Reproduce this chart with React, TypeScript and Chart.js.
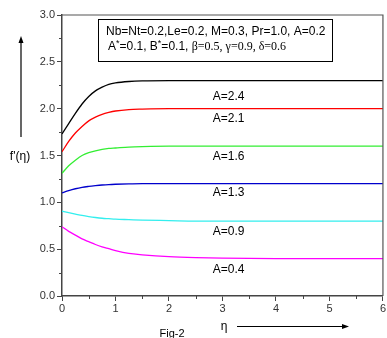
import React, { useEffect, useRef } from "react";
import { Chart, registerables } from "chart.js";

Chart.register(...registerables);

const eta = [0, 0.125, 0.25, 0.375, 0.5, 0.625, 0.75, 0.875, 1, 1.25, 1.5, 2, 2.5, 3, 4, 5, 6];
const fA24 = [1.73, 1.84, 1.95, 2.05, 2.13, 2.19, 2.23, 2.26, 2.275, 2.29, 2.297, 2.30, 2.30, 2.30, 2.30, 2.30, 2.30];
const fA21 = [1.54, 1.65, 1.74, 1.81, 1.87, 1.91, 1.94, 1.96, 1.975, 1.99, 1.995, 2.0, 2.0, 2.0, 2.0, 2.0, 2.0];
const fA16 = [1.31, 1.39, 1.45, 1.50, 1.53, 1.55, 1.565, 1.575, 1.58, 1.59, 1.595, 1.60, 1.60, 1.60, 1.60, 1.60, 1.60];
const fA13 = [1.10, 1.125, 1.145, 1.16, 1.17, 1.178, 1.185, 1.19, 1.193, 1.197, 1.20, 1.20, 1.20, 1.20, 1.20, 1.20, 1.20];
const fA09 = [0.905, 0.89, 0.875, 0.86, 0.848, 0.838, 0.83, 0.825, 0.82, 0.815, 0.81, 0.805, 0.80, 0.80, 0.80, 0.80, 0.80];
const fA04 = [0.74, 0.69, 0.65, 0.61, 0.58, 0.55, 0.525, 0.505, 0.485, 0.455, 0.44, 0.42, 0.41, 0.405, 0.40, 0.40, 0.40];

const seriesLabels = ["A=2.4", "A=2.1", "A=1.6", "A=1.3", "A=0.9", "A=0.4"];
const seriesColors = ["#000000", "#ff0000", "#33ee33", "#0000cc", "#33eeee", "#ff00ff"];
const seriesValues = [fA24, fA21, fA16, fA13, fA09, fA04];
const labelYValues = [2.13, 1.89, 1.49, 1.10, 0.69, 0.285];
const labelX = 2.82;

const xTicks = [0, 1, 2, 3, 4, 5, 6];
const yTicks = [0, 0.5, 1.0, 1.5, 2.0, 2.5, 3.0];

const SANS = "Arial, 'Liberation Sans', sans-serif";
const SERIF = "'Times New Roman', 'Liberation Serif', serif";

const decor = {
  id: "decor",
  afterDraw(chart: any) {
    const ctx = chart.ctx;
    const a = chart.chartArea;
    const xs = chart.scales.x;
    const ys = chart.scales.y;
    ctx.save();
    // top and right frame
    ctx.strokeStyle = "#555";
    ctx.lineWidth = 1.2;
    ctx.beginPath();
    ctx.moveTo(a.left, a.top);
    ctx.lineTo(a.right, a.top);
    ctx.lineTo(a.right, a.bottom);
    ctx.stroke();
    // minor ticks
    ctx.strokeStyle = "#444";
    ctx.lineWidth = 1;
    ctx.beginPath();
    for (let v = 0.5; v < 6; v += 1) {
      const px = Math.round(xs.getPixelForValue(v)) + 0.5;
      ctx.moveTo(px, a.bottom);
      ctx.lineTo(px, a.bottom + 3);
    }
    for (let v = 0.25; v < 3; v += 0.5) {
      const py = Math.round(ys.getPixelForValue(v)) + 0.5;
      ctx.moveTo(a.left, py);
      ctx.lineTo(a.left - 3, py);
    }
    ctx.stroke();
    // series labels
    ctx.fillStyle = "#000";
    ctx.font = "12px " + SANS;
    ctx.textBaseline = "middle";
    ctx.textAlign = "left";
    seriesLabels.forEach((t, i) => {
      ctx.fillText(t, xs.getPixelForValue(labelX), ys.getPixelForValue(labelYValues[i]));
    });
    // parameter box
    ctx.strokeStyle = "#000";
    ctx.lineWidth = 1;
    ctx.strokeRect(98.5, 19.5, 234, 42);
    ctx.font = "12px " + SANS;
    ctx.fillText("Nb=Nt=0.2,Le=0.2, M=0.3, Pr=1.0, A=0.2", 106, 32);
    let x = 108;
    const y2 = 46.5;
    const parts: [string, boolean][] = [["A", false], ["*", true], ["=0.1, B", false], ["*", true], ["=0.1, ", false]];
    parts.forEach(([s, sup]) => {
      if (sup) {
        ctx.font = "9px " + SANS;
        ctx.fillText(s, x, y2 - 3);
      } else {
        ctx.font = "12px " + SANS;
        ctx.fillText(s, x, y2);
      }
      x += ctx.measureText(s).width;
    });
    ctx.font = "12px " + SERIF;
    ctx.fillText("\u03b2=0.5, \u03b3=0.9, \u03b4=0.6", x, y2);
    // y axis title + arrow
    ctx.font = "12px " + SANS;
    ctx.textAlign = "center";
    ctx.fillText("f'(\u03b7)", 20, 157);
    ctx.lineWidth = 1.2;
    ctx.beginPath();
    ctx.moveTo(21, 137);
    ctx.lineTo(21, 40);
    ctx.stroke();
    ctx.fillStyle = "#000";
    ctx.beginPath();
    ctx.moveTo(21, 36);
    ctx.lineTo(18.5, 43);
    ctx.lineTo(23.5, 43);
    ctx.closePath();
    ctx.fill();
    // x axis title + arrow
    ctx.fillText("\u03b7", 224, 327);
    ctx.beginPath();
    ctx.moveTo(237, 326.5);
    ctx.lineTo(344, 326.5);
    ctx.stroke();
    ctx.beginPath();
    ctx.moveTo(349, 326.5);
    ctx.lineTo(342, 324);
    ctx.lineTo(342, 329);
    ctx.closePath();
    ctx.fill();
    // Fig caption
    ctx.font = "11px " + SANS;
    ctx.fillText("Fig-2", 172, 334);
    ctx.restore();
  },
};

export default function App() {
  const ref = useRef<HTMLCanvasElement | null>(null);
  useEffect(() => {
    if (!ref.current) return;
    const datasets = seriesValues.map((vals, i) => ({
      label: seriesLabels[i],
      data: eta.map((e, j) => ({ x: e, y: vals[j] })),
      borderColor: seriesColors[i],
      backgroundColor: seriesColors[i],
      borderWidth: 1.3,
      pointRadius: 0,
      cubicInterpolationMode: "monotone" as const,
      fill: false,
    }));
    const chart = new Chart(ref.current, {
      type: "line",
      data: { datasets },
      options: {
        animation: false,
        responsive: false,
        maintainAspectRatio: false,
        layout: { padding: { top: 15, right: 3, left: 0, bottom: 0 } },
        plugins: { legend: { display: false }, tooltip: { enabled: false } },
        scales: {
          x: {
            type: "linear",
            min: 0,
            max: 6,
            afterBuildTicks: (s: any) => {
              s.ticks = xTicks.map((v) => ({ value: v }));
            },
            afterFit: (s: any) => {
              s.height = 42;
            },
            ticks: {
              color: "#333",
              font: { size: 11, family: SANS },
              padding: 1,
              maxRotation: 0,
              callback: (v: any) => String(v),
            },
            grid: { drawOnChartArea: false, drawTicks: true, tickLength: 5, color: "#444", lineWidth: 1 },
            border: { display: true, color: "#444", width: 1.5 },
          },
          y: {
            type: "linear",
            min: 0,
            max: 3,
            afterBuildTicks: (s: any) => {
              s.ticks = yTicks.map((v) => ({ value: v }));
            },
            afterFit: (s: any) => {
              s.width = 62;
            },
            ticks: {
              color: "#333",
              font: { size: 11, family: SANS },
              padding: 2,
              callback: (v: any) => Number(v).toFixed(1),
            },
            grid: { drawOnChartArea: false, drawTicks: true, tickLength: 5, color: "#444", lineWidth: 1 },
            border: { display: true, color: "#444", width: 1.5 },
          },
        },
      },
      plugins: [decor],
    });
    return () => chart.destroy();
  }, []);
  return (
    <div style={{ position: "fixed", left: 0, top: 0, width: 387, height: 338, background: "#fff" }}>
      <canvas ref={ref} width={387} height={338} style={{ width: 387, height: 338, display: "block" }} />
    </div>
  );
}
